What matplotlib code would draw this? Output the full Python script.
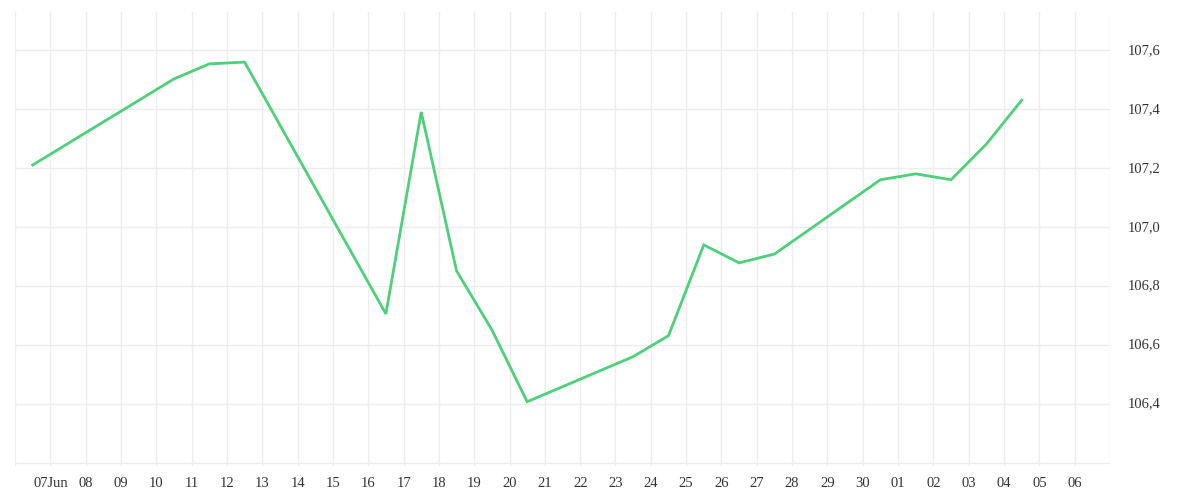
import matplotlib
matplotlib.use("Agg")
import matplotlib.pyplot as plt
import matplotlib.dates as mdates
import matplotlib.ticker as mticker
import pandas as pd

# datos (punto a mediodia)
fechas = ["2024-06-06 12:00", "2024-06-10 12:00", "2024-06-11 12:00", "2024-06-12 12:00",
          "2024-06-16 12:00", "2024-06-17 12:00", "2024-06-18 12:00", "2024-06-19 12:00",
          "2024-06-20 12:00", "2024-06-23 12:00", "2024-06-24 12:00", "2024-06-25 12:00",
          "2024-06-26 12:00", "2024-06-27 12:00", "2024-06-30 12:00", "2024-07-01 12:00",
          "2024-07-02 12:00", "2024-07-03 12:00", "2024-07-04 12:00"]
valores = [107.211, 107.503, 107.554, 107.560,
           106.706, 107.391, 106.852, 106.652,
           106.408, 106.561, 106.632, 106.940,
           106.879, 106.909, 107.161, 107.181,
           107.161, 107.282, 107.431]

dias_ticks = pd.date_range("2024-06-07", "2024-07-06", freq="D")
y_ticks = [106.4, 106.6, 106.8, 107.0, 107.2, 107.4, 107.6]

plt.rcParams['font.family'] = ['Liberation Serif', 'DejaVu Serif']

fig = plt.figure(figsize=(12, 5), dpi=100)
ax = fig.add_axes([0.0125, 0.068, 0.9125, 0.908])

x = pd.to_datetime(fechas)
ax.plot(x, valores, color='#4ed07a', lw=2.0, solid_joinstyle='miter')

ax.set_xlim(pd.Timestamp("2024-06-06"), pd.Timestamp("2024-07-07"))
ax.set_ylim(106.19, 107.73)

# grid de todos los dias
ax.xaxis.set_minor_locator(mdates.DayLocator())
ax.set_xticks(dias_ticks)
etiquetas = [d.strftime("%d") for d in dias_ticks]
etiquetas[0] = dias_ticks[0].strftime("%d") + "Jun"
ax.set_xticklabels(etiquetas)
ax.grid(True, which='both', axis='x', color='#ededed', lw=1)

ax.set_yticks(y_ticks)
ax.yaxis.set_minor_locator(mticker.FixedLocator([106.2]))
ax.yaxis.set_major_formatter(mticker.FuncFormatter(lambda v, p: f"{v:.1f}".replace(".", ",")))
ax.yaxis.tick_right()
ax.grid(True, which='both', axis='y', color='#ededed', lw=1)

ax.tick_params(axis='both', which='both', length=0, labelsize=10.5, colors='#333333')
ax.tick_params(axis='x', pad=8)
ax.tick_params(axis='y', pad=13)
for lbl in ax.get_yticklabels():
    lbl.set_va('top')
    lbl.set_y(lbl.get_position()[1])
ax.set_yticklabels([f"{v:.1f}".replace(".", ",") for v in y_ticks], va='center')
for s in ax.spines.values():
    s.set_visible(False)
ax.set_axisbelow(True)

fig.savefig("out.png", dpi=100)
